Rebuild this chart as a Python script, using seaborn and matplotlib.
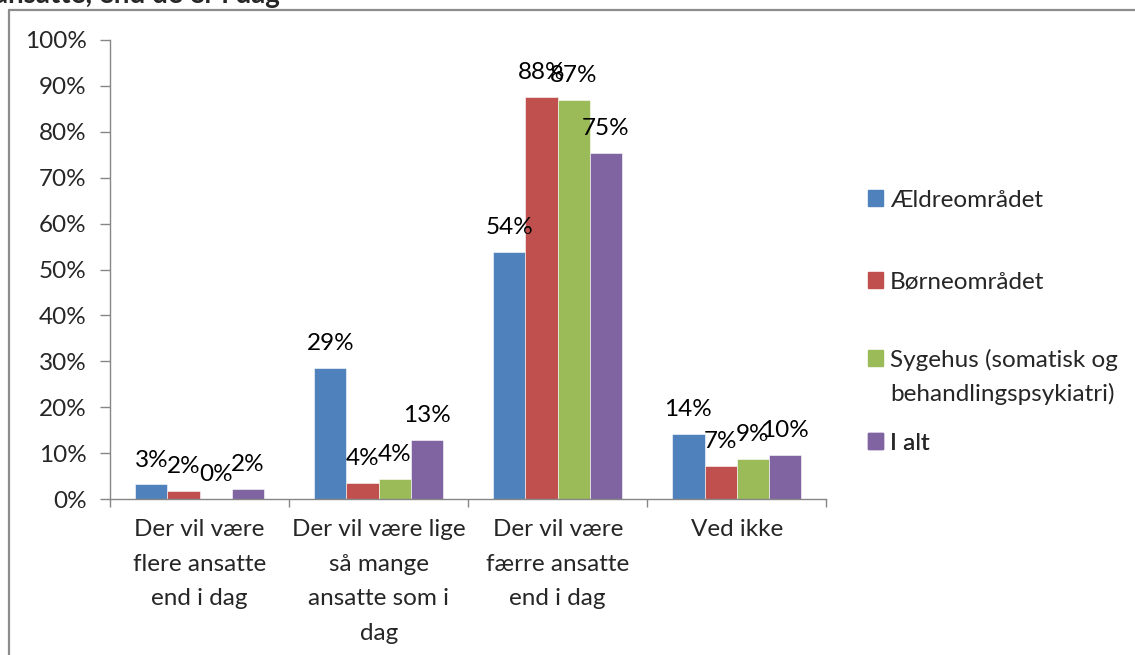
import pandas as pd
import matplotlib.pyplot as plt
import seaborn as sns
from matplotlib.lines import Line2D
from matplotlib.patches import Patch

# Data (percent)
categories = ["Der vil være\nflere ansatte\nend i dag",
              "Der vil være lige\nså mange\nansatte som i\ndag",
              "Der vil være\nfærre ansatte\nend i dag",
              "Ved ikke"]
series = ["Ældreområdet", "Børneområdet",
          "Sygehus (somatisk og\nbehandlingspsykiatri)", "I alt"]
aeldre = [3.2, 28.6, 53.9, 14.2]
boerne = [1.8, 3.6, 87.6, 7.2]
sygehus = [0.0, 4.4, 87.0, 8.7]
i_alt = [2.25, 12.9, 75.3, 9.6]
colors = ["#4F81BD", "#C0504D", "#9BBB59", "#8064A2"]

df = pd.DataFrame({
    "Kategori": categories * 4,
    "Serie": [s for s in series for _ in categories],
    "Andel": aeldre + boerne + sygehus + i_alt,
})

sns.set_theme(style="white")
plt.rcParams["font.family"] = ["Lato", "DejaVu Sans"]
fs = 17.5

fig = plt.figure(figsize=(11.35, 6.55), dpi=100)
ax = fig.add_axes([0.097, 0.238, 0.631, 0.701])

sns.barplot(data=df, x="Kategori", y="Andel", hue="Serie", palette=colors,
            saturation=1, width=0.72, gap=0, ax=ax,
            edgecolor="white", linewidth=0.4)

# Data labels above each bar
for cont in ax.containers:
    ax.bar_label(cont, labels=[f"{b.get_height():.0f}%" for b in cont],
                 padding=10, fontsize=fs, color="black")

ax.set_ylim(0, 100)
ax.set_xlim(-0.5, 3.5)
ax.set_yticks(range(0, 101, 10))
ax.set_yticklabels([f"{v}%" for v in range(0, 101, 10)], fontsize=fs)
ax.set_xticks(range(len(categories)))
ax.set_xticklabels(categories, fontsize=fs, linespacing=1.8)
ax.set_xticks([-0.5, 0.5, 1.5, 2.5, 3.5], minor=True)
ax.set_xlabel("")
ax.set_ylabel("")

for side in ["top", "right"]:
    ax.spines[side].set_visible(False)
for side in ["left", "bottom"]:
    ax.spines[side].set_color("#868686")
    ax.spines[side].set_linewidth(1.0)

ax.tick_params(axis="y", which="major", direction="out", length=7, width=1,
               color="#868686", pad=10, left=True)
ax.tick_params(axis="x", which="major", length=0, pad=14.5)
ax.tick_params(axis="x", which="minor", direction="out", length=6, width=1,
               color="#868686", bottom=True)

# Legend: one block per series so the spacing follows the reference
ax.legend_.remove()
H = 655.0
leg_rows = [
    ([Patch(color=colors[0])], ["Ældreområdet"], 200),
    ([Patch(color=colors[1])], ["Børneområdet"], 282),
    ([Patch(color=colors[2]), Patch(color="none")],
     ["Sygehus (somatisk og", "behandlingspsykiatri)"], 377),
    ([Patch(color=colors[3])], ["I alt"], 443),
]
for hs, ls, yc in leg_rows:
    leg = ax.legend(hs, ls, loc="center left",
                    bbox_to_anchor=(0.765, 1 - yc / H),
                    bbox_transform=fig.transFigure, frameon=False,
                    fontsize=fs, handlelength=0.6, handleheight=0.6,
                    handletextpad=0.3, labelspacing=0.52,
                    borderaxespad=0, borderpad=0)
    ax.add_artist(leg)

# Outer chart frame (top and left edges visible)
fig.add_artist(Line2D([0.008, 1.0], [0.985, 0.985], color="#8c8c8c", lw=1.6,
                      transform=fig.transFigure))
fig.add_artist(Line2D([0.008, 0.008], [0.0, 0.985], color="#8c8c8c", lw=1.6,
                      transform=fig.transFigure))

# Title, cut off at the top edge in the reference
fig.text(-0.005, 0.995, "ansatte, end de er i dag", fontsize=20,
         fontweight="bold", va="baseline", ha="left")

fig.savefig("out.png", dpi=100)
